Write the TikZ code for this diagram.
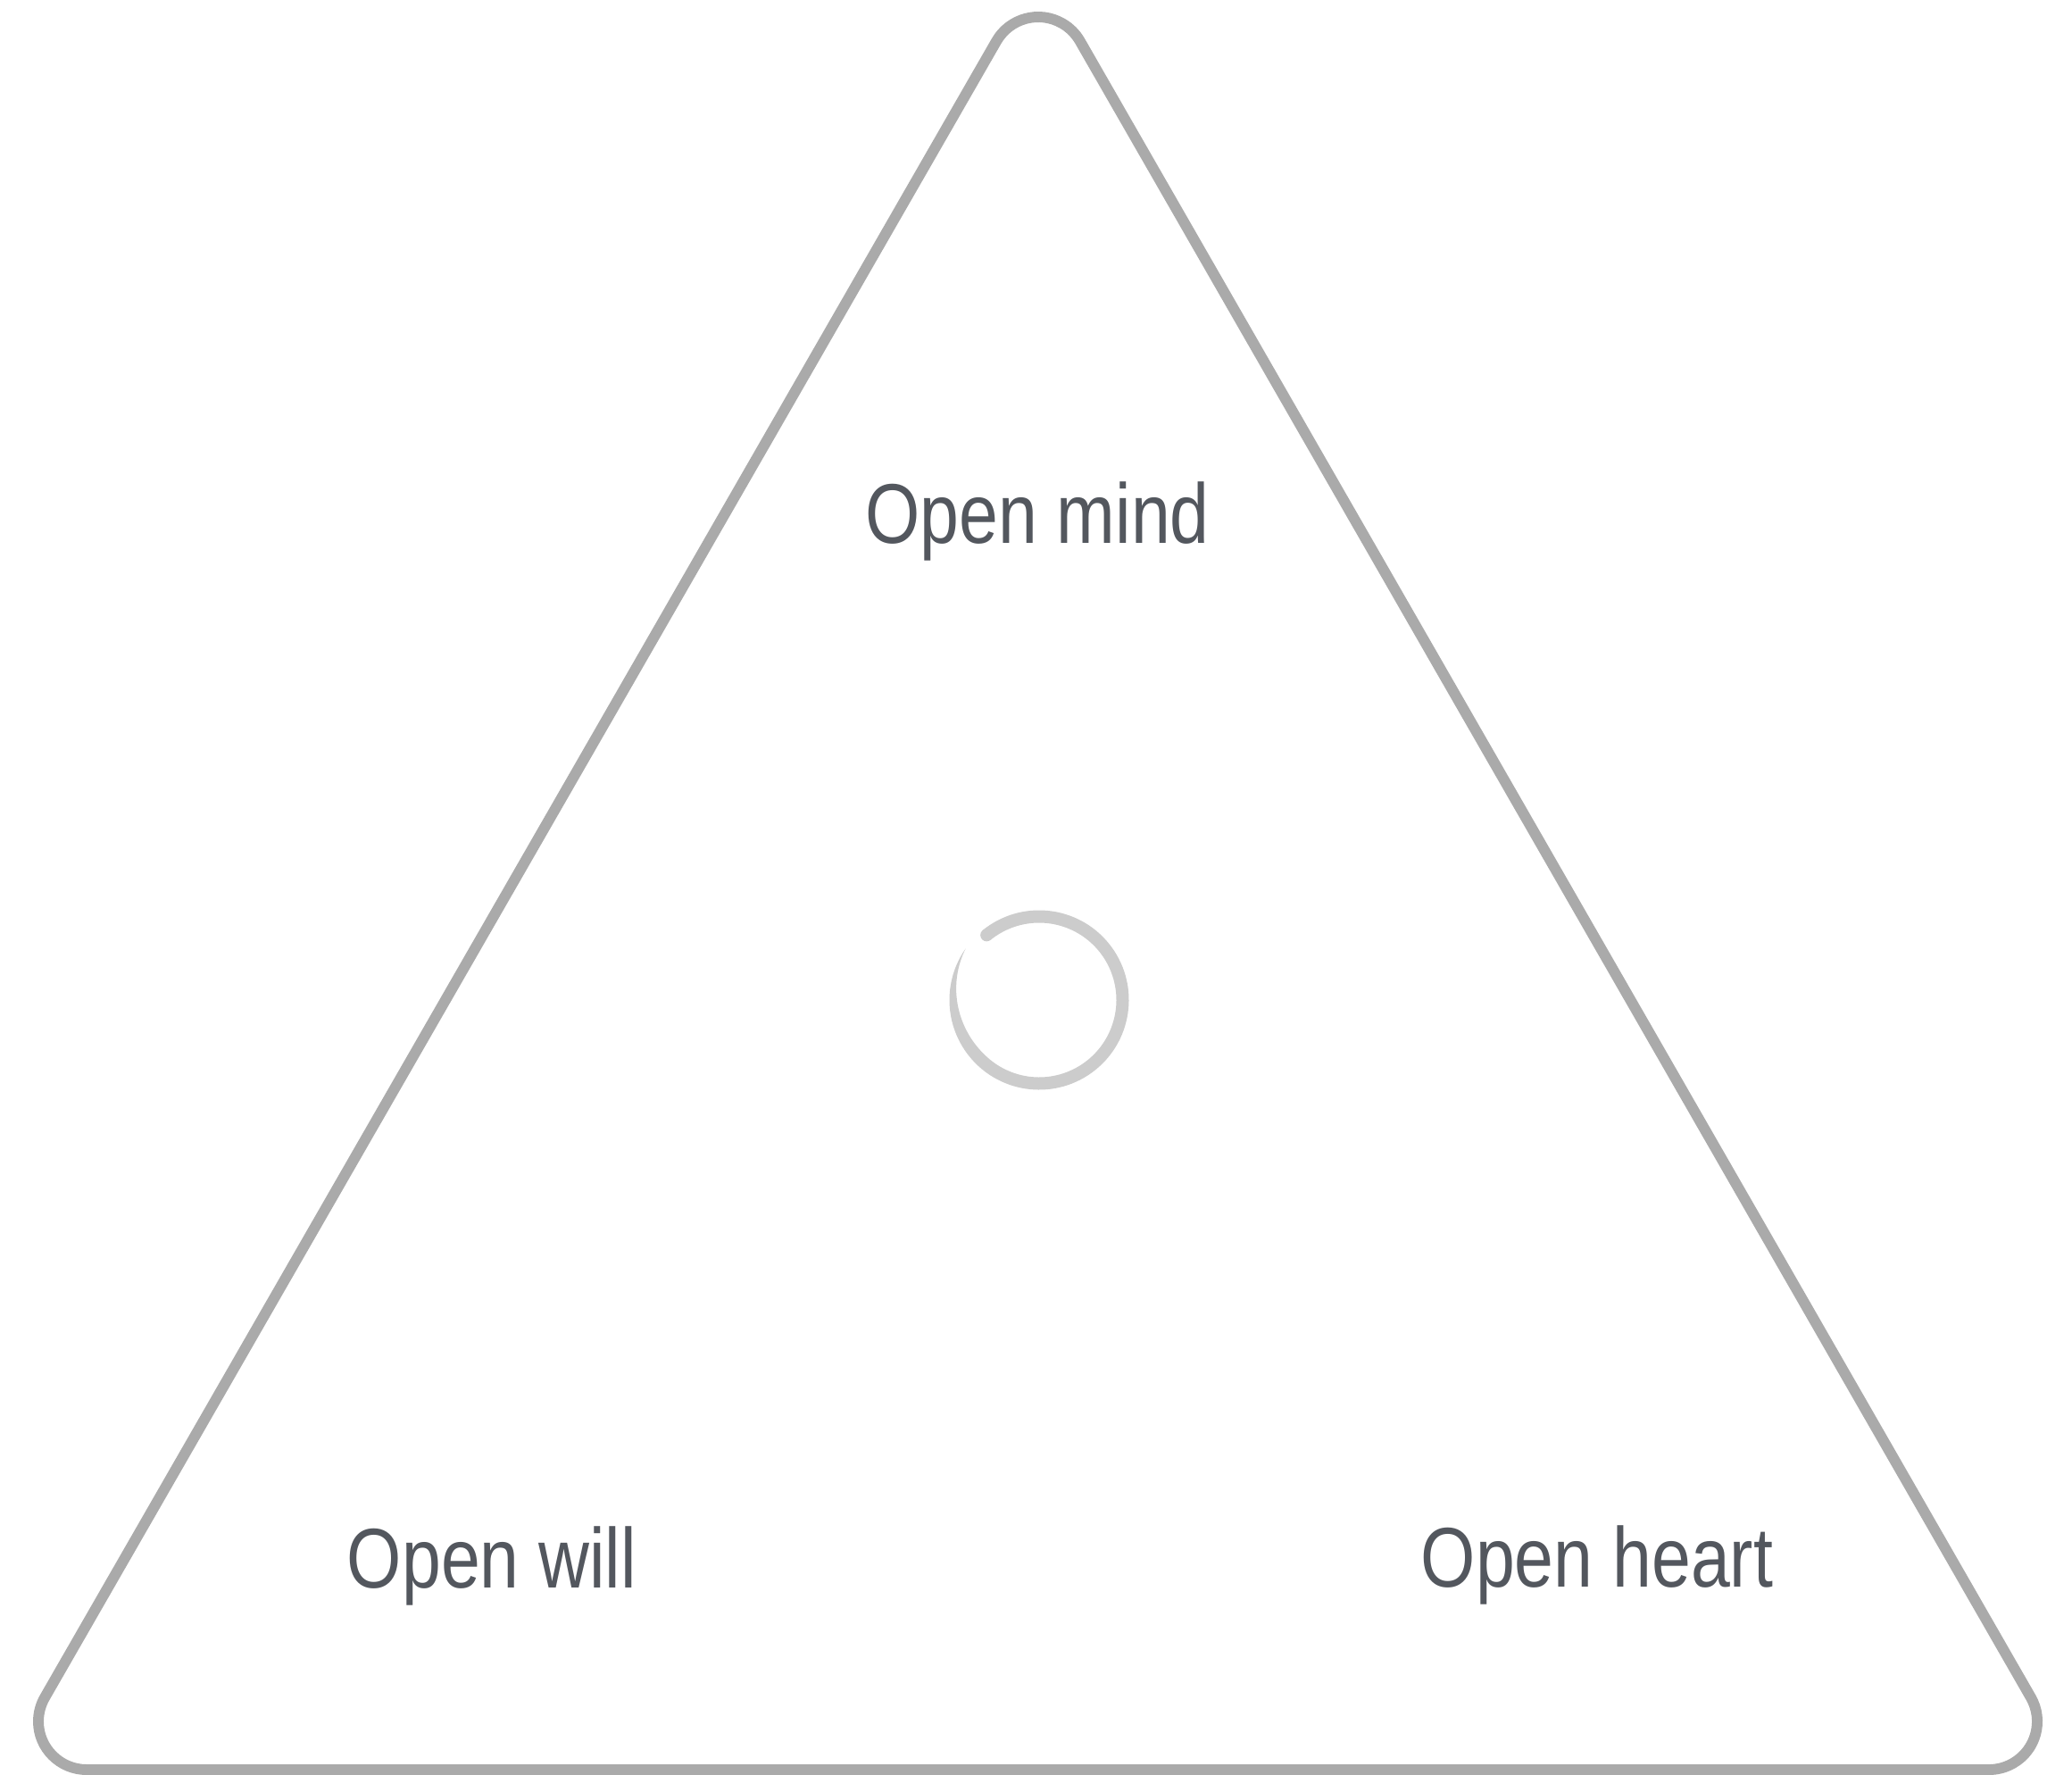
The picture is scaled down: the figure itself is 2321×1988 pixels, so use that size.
\documentclass[tikz,border=0pt]{standalone}
\usepackage{fontspec}
\newfontfamily\labelfont[FakeStretch=0.83]{Liberation Sans}
\definecolor{framegray}{HTML}{AAAAAA}
\definecolor{ringgray}{HTML}{CCCCCC}
\definecolor{textgray}{HTML}{53575E}
\tikzset{
  frame line/.style={draw=framegray, line width=3.4pt, line join=round},
  label text/.style={font=\labelfont\fontsize{27}{32}\selectfont, text=textgray, anchor=base, inner sep=0pt}
}
\begin{document}
\begin{tikzpicture}[x=0.01cm, y=-0.01cm]
  \useasboundingbox (0,0) rectangle (2321,1988);

  % Triangle frame
  \draw[frame line] (1163,1982) -- (97,1982) arc[start angle=90, end angle=210, radius=54]
    -- (1116.2,46) arc[start angle=210, end angle=330, radius=54]
    -- (2274.8,1901) arc[start angle=330, end angle=450, radius=54] -- cycle;

  % Labels
  \node[label text] (mind)  at (1162,608)  {Open mind};
  \node[label text] (will)  at (551,1778)  {Open will};
  \node[label text] (heart) at (1789,1777) {Open heart};

  % Centre ring (brush stroke, thinning towards its open end)
  \begin{scope}[shift={(1164,1120)}, yscale=-1]
    \fill[ringgray] (129:93.5) circle[radius=7];
    \fill[ringgray] (129:100.5) arc[start angle=129, end angle=-215, radius=100.5]
      -- plot[domain=-215:129, samples=150] ({\x}:{100.5-14*sin(90*min(1,(\x+215)/85))}) -- cycle;
  \end{scope}
\end{tikzpicture}
\end{document}
